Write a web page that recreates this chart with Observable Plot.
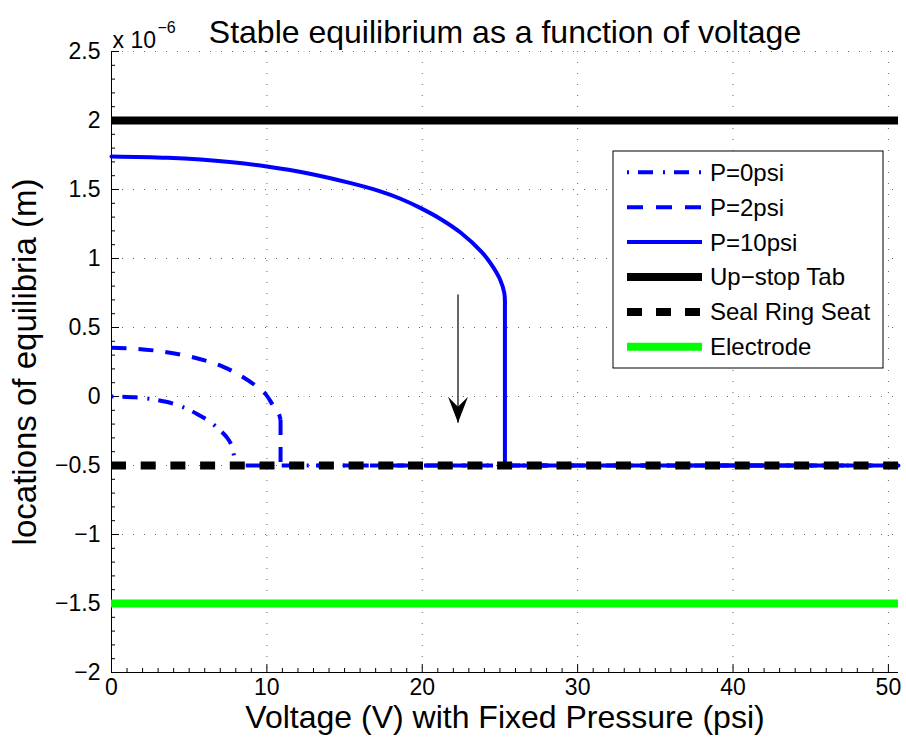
<!DOCTYPE html>
<html>
<head>
<meta charset="utf-8">
<script src="https://cdn.jsdelivr.net/npm/d3@7"></script>
<script src="https://cdn.jsdelivr.net/npm/@observablehq/plot@0.6"></script>
<style>
  body { margin: 0; background: #fff; }
</style>
</head>
<body>
<div id="chart"></div>
<script>
// Axis ticks (positions in units of 1e-6 m on y, volts on x)
const xMajor = [0, 10, 20, 30, 40, 50];
const yMajor = [-2, -1.5, -1, -0.5, 0, 0.5, 1, 1.5, 2, 2.5];
const xMinor = d3.range(1, 51).filter(d => d % 10 !== 0);
const yMinor = d3.range(-19, 25).map(d => d / 10).filter(d => Math.abs(d * 2 - Math.round(d * 2)) > 1e-9);
const xEnd = 50.65;

// P = 0 psi: stable branch, then collapse onto the seal ring seat
const p0Voltage  = [0, 1.5, 2.5, 3.6, 4.6, 5.5, 6.3, 7.0, 7.45, 7.75, 7.88, 7.93];
const p0Position = [0, -0.006, -0.018, -0.04, -0.077, -0.126, -0.18, -0.246, -0.3, -0.36, -0.43, -0.5];
const p0SeatVoltage  = [7.93, 50.65];
const p0SeatPosition = [-0.5, -0.5];

// P = 2 psi
const p2Voltage  = [0, 1.5, 3, 4.5, 6, 7.2, 8.3, 9.2, 9.9, 10.4, 10.75, 10.88];
const p2Position = [0.353, 0.347, 0.33, 0.303, 0.262, 0.215, 0.152, 0.085, 0.02, -0.065, -0.12, -0.17];
const p2DropVoltage  = [10.88, 10.88, 50.65];
const p2DropPosition = [-0.17, -0.5, -0.5];

// P = 10 psi
const p10Voltage  = [0, 3.6, 7.6, 10, 12.6, 15.4, 17.2, 18.6, 19.9, 21.2, 22.5, 23.8, 24.4, 25.0, 25.28, 25.32];
const p10Position = [1.74, 1.73, 1.70, 1.667, 1.618, 1.546, 1.49, 1.433, 1.365, 1.285, 1.185, 1.05, 0.965, 0.85, 0.75, 0.68];
const p10DropVoltage  = [25.32, 25.32, 50.65];
const p10DropPosition = [0.68, -0.5, -0.5];

// Fixed structural levels
const upstopLevel = 2.0;
const sealLevel = -0.5;
const electrodeLevel = -1.5;

// Annotation arrow (voltage, top, tip)
const arrowX = 22.3, arrowTop = 0.74, arrowTip = -0.19;

const titleText = "Stable equilibrium as a function of voltage";
const xLabel = "Voltage (V) with Fixed Pressure (psi)";
const yLabel = "locations of equilibria (m)";
const legendLabels = ["P=0psi", "P=2psi", "P=10psi", "Up\u2212stop Tab", "Seal Ring Seat", "Electrode"];

const toRows = (vs, ys) => vs.map((v, i) => ({v, y: ys[i]}));

const fmt = d => (d < 0 ? "\u2212" : "") + Math.abs(d);

const W = 906, H = 744, ML = 111, MR = 8, MT = 51, MB = 72;
const innerW = W - ML - MR, innerH = H - MT - MB;
const blue = "#0000ff", green = "#00ff00";
const gridStyle = {stroke: "#000", strokeOpacity: 0.6, strokeWidth: 1, strokeDasharray: "1,10"};
const p0Style = {x: "v", y: "y", stroke: blue, strokeWidth: 4, strokeDasharray: "2,9,15,10", strokeLinecap: "butt"};
const p2Style = {x: "v", y: "y", stroke: blue, strokeWidth: 4, strokeDasharray: "15,12", strokeLinecap: "butt"};
const p10Style = {x: "v", y: "y", stroke: blue, strokeWidth: 4};

// Filled, notched arrowhead with its tip at the origin, pointing down
const arrowHead = {
  draw(ctx) {
    ctx.moveTo(0, 0);
    ctx.lineTo(-10, -26);
    ctx.lineTo(0, -16);
    ctx.lineTo(10, -26);
    ctx.closePath();
  }
};

const plot = Plot.plot({
  width: W, height: H,
  marginLeft: ML, marginRight: MR, marginTop: MT, marginBottom: MB,
  x: {domain: [0, xEnd]},
  y: {domain: [-2, 2.5]},
  style: {fontFamily: "'Liberation Sans', Arial, sans-serif", fontSize: "23px", background: "#fff", color: "#000", overflow: "visible"},
  marks: [
    Plot.gridX(xMajor.filter(d => d > 0), gridStyle),
    Plot.gridY(yMajor.filter(d => d > -2), gridStyle),
    // axis lines and inward ticks
    Plot.ruleX([0], {stroke: "#000"}),
    Plot.ruleY([-2], {stroke: "#000"}),
    Plot.ruleX(xMajor, {stroke: "#000", insetTop: innerH - 8}),
    Plot.ruleX(xMinor, {stroke: "#000", insetTop: innerH - 4}),
    Plot.ruleY(yMajor, {stroke: "#000", insetRight: innerW - 8}),
    Plot.ruleY(yMinor, {stroke: "#000", insetRight: innerW - 4}),
    Plot.axisX(xMajor, {tickSize: 0, tickPadding: 6, tickFormat: fmt, label: null, fontSize: 23}),
    Plot.axisY(yMajor, {tickSize: 0, tickPadding: 11, tickFormat: fmt, label: null, fontSize: 23}),
    // equilibrium branches
    Plot.line(toRows(p0Voltage, p0Position), {...p0Style, curve: "catmull-rom"}),
    Plot.line(toRows(p0SeatVoltage, p0SeatPosition), p0Style),
    Plot.line(toRows(p2Voltage, p2Position), {...p2Style, curve: "catmull-rom"}),
    Plot.line(toRows(p2DropVoltage, p2DropPosition), p2Style),
    Plot.line(toRows(p10Voltage, p10Position), {...p10Style, curve: "catmull-rom"}),
    Plot.line(toRows(p10DropVoltage, p10DropPosition), {...p10Style, strokeLinejoin: "miter"}),
    // structural levels
    Plot.ruleY([upstopLevel], {x1: 0, x2: xEnd, stroke: "#000", strokeWidth: 8}),
    Plot.ruleY([sealLevel], {x1: 0, x2: xEnd, stroke: "#000", strokeWidth: 8, strokeDasharray: "15,14.7"}),
    Plot.ruleY([electrodeLevel], {x1: 0, x2: xEnd, stroke: green, strokeWidth: 8}),
    // annotation arrow
    Plot.link([0], {x1: () => arrowX, x2: () => arrowX, y1: () => arrowTop, y2: () => arrowTip, stroke: "#000", strokeWidth: 1.2}),
    Plot.dot([0], {x: () => arrowX, y: () => arrowTip, symbol: arrowHead, fill: "#000", stroke: "none"}),
    // titles and labels
    Plot.text([titleText], {text: d => d, frameAnchor: "top", dy: -31, fontSize: 32}),
    Plot.text(["x 10"], {text: d => d, frameAnchor: "top-left", textAnchor: "start", dx: 1, dy: -19.5, fontSize: 23}),
    Plot.text(["\u22126"], {text: d => d, frameAnchor: "top-left", textAnchor: "start", dx: 46, dy: -29.5, fontSize: 16}),
    Plot.text([xLabel], {text: d => d, frameAnchor: "bottom", dy: 55, fontSize: 32}),
    Plot.text([yLabel], {text: d => d, frameAnchor: "left", textAnchor: "middle", rotate: -90, dx: -86, fontSize: 33})
  ]
});

// Legend box in the upper right of the axes
const svg = d3.select(plot);
const lg = svg.append("g").attr("class", "legend").attr("text-anchor", "start");
lg.append("rect")
  .attr("x", 613).attr("y", 151).attr("width", 270).attr("height", 217)
  .attr("fill", "#fff").attr("stroke", "#000").attr("stroke-width", 1);
const legendStyles = [
  {stroke: blue, width: 4, dash: "2,9,15,10"},
  {stroke: blue, width: 4, dash: "16,13"},
  {stroke: blue, width: 4, dash: null},
  {stroke: "#000", width: 8, dash: null},
  {stroke: "#000", width: 8, dash: "15,14"},
  {stroke: green, width: 8, dash: null}
];
legendLabels.forEach((label, i) => {
  const cy = 172.3 + i * 34.9;
  const s = legendStyles[i];
  const ln = lg.append("line")
    .attr("x1", 627).attr("x2", 702).attr("y1", cy).attr("y2", cy)
    .attr("stroke", s.stroke).attr("stroke-width", s.width);
  if (s.dash) ln.attr("stroke-dasharray", s.dash);
  lg.append("text")
    .attr("x", 710).attr("y", cy).attr("dy", "0.35em")
    .attr("text-anchor", "start")
    .attr("font-size", 24).attr("fill", "#000")
    .text(label);
});

document.getElementById("chart").appendChild(plot);
</script>
</body>
</html>
